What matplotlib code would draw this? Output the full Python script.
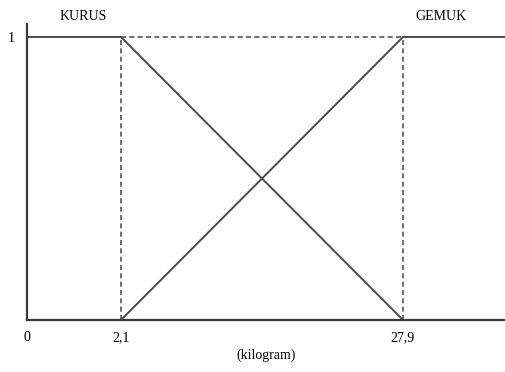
import matplotlib
matplotlib.use("Agg")
import matplotlib.pyplot as plt

plt.rcParams['font.family'] = ['Liberation Serif', 'DejaVu Serif']

# breakpoints of the membership functions (schematic positions, real labels)
x_pos = [0, 1, 4]
x_labels = ["0", "2,1", "27,9"]
x_end = 5.1

kurus_x = [0, 1, 4]
kurus_y = [1, 1, 0]
gemuk_x = [1, 4, x_end]
gemuk_y = [0, 1, 1]

W, H = 506, 372
fig = plt.figure(figsize=(W / 100, H / 100), dpi=100)
ax = fig.add_axes([27 / W, 52 / H, (W - 27) / W, 296 / H])

line_col = "#3a3a3a"
ax.plot(kurus_x, kurus_y, color="#4a4a4a", lw=1.4, solid_capstyle='butt')
ax.plot(gemuk_x, gemuk_y, color="#4a4a4a", lw=1.4, solid_capstyle='butt')

# dashed guides
dash_col = "#555555"
ax.plot([x_pos[1], x_pos[1]], [0, 1], color=dash_col, lw=1.2, ls=(0, (3, 2)))
ax.plot([x_pos[2], x_pos[2]], [0, 1], color=dash_col, lw=1.2, ls=(0, (3, 2)))
ax.plot([x_pos[1], x_pos[2]], [1, 1], color=dash_col, lw=1.2, ls=(0, (3, 2)))

ax.set_xlim(0, 479 / 94)
ax.set_ylim(0, 296 / 283)

for s in ['top', 'right']:
    ax.spines[s].set_visible(False)
for s in ['left', 'bottom']:
    ax.spines[s].set_color(line_col)
    ax.spines[s].set_linewidth(1.6)

ax.set_xticks(x_pos)
ax.set_xticklabels(x_labels, fontsize=10)
ax.set_yticks([1])
ax.set_yticklabels(["1"], fontsize=10)
ax.tick_params(length=0, pad=8)
ax.tick_params(axis='y', pad=9)

ax.set_xlabel("(kilogram)", fontsize=10, labelpad=3)

ax.text(0.6, 1.074, "KURUS", fontsize=10, ha='center', va='center', clip_on=False)
ax.text(4.4, 1.074, "GEMUK", fontsize=10, ha='center', va='center', clip_on=False)

fig.savefig("out.png", dpi=100)
